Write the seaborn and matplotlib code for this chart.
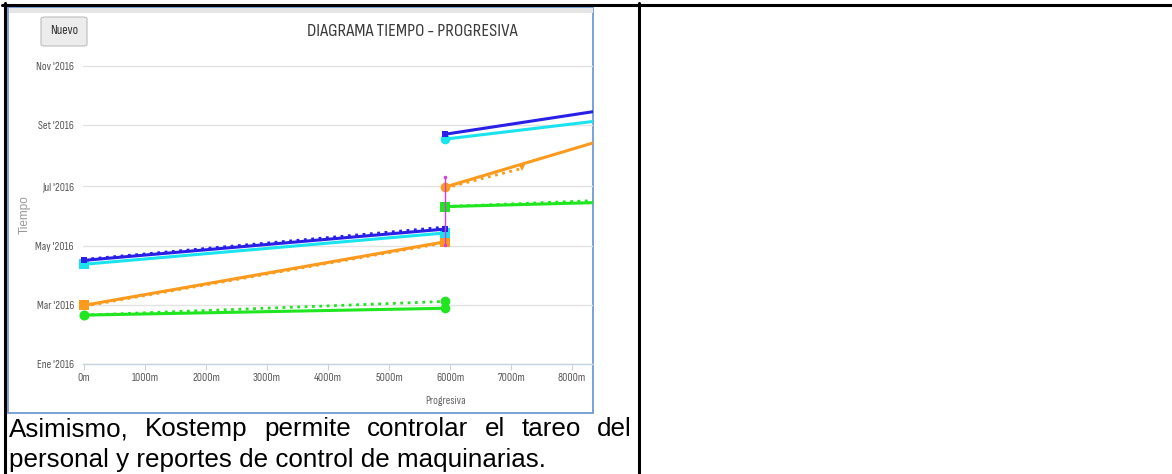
import pandas as pd
import seaborn as sns
import matplotlib.pyplot as plt
from matplotlib.lines import Line2D
from matplotlib.patches import Rectangle, FancyBboxPatch

# Progresiva (m) de cada tramo
x_tramo1 = [0, 5920]
x_tramo2 = [5920, 8340]
x_naranja_prog2 = [5920, 7180]
x_hito = [5920, 5920]

# Tiempo, tramo 1 (real = continua, prog = punteada)
azul_t1 = ['2016-04-16', '2016-05-18']
azul_prog_t1 = ['2016-04-17', '2016-05-20']
cian_t1 = ['2016-04-12', '2016-05-14']
naranja_t1 = ['2016-03-01', '2016-05-05']
naranja_prog_t1 = ['2016-02-29', '2016-05-04']
verde_t1 = ['2016-02-20', '2016-02-27']
verde_prog_t1 = ['2016-02-20', '2016-03-05']

# Tiempo, tramo 2
azul_t2 = ['2016-08-23', '2016-09-15']
cian_t2 = ['2016-08-18', '2016-09-05']
naranja_t2 = ['2016-06-30', '2016-08-14']
naranja_prog_t2 = ['2016-06-29', '2016-07-19']
verde_t2 = ['2016-06-10', '2016-06-14']
verde_prog_t2 = ['2016-06-10', '2016-06-16']

# hito vertical en el cambio de tramo
hito = ['2016-05-02', '2016-07-10']

# ejes
x_ticks = [0, 1000, 2000, 3000, 4000, 5000, 6000, 7000, 8000]
x_ticklabels = ['0m', '1000m', '2000m', '3000m', '4000m', '5000m', '6000m', '7000m', '8000m']
y_ticks = ['2016-01-01', '2016-03-01', '2016-05-01', '2016-07-01', '2016-09-01', '2016-11-01']
y_ticklabels = ["Ene '2016", "Mar '2016", "May '2016", "Jul '2016", "Set '2016", "Nov '2016"]

texto = ["Asimismo, Kostemp permite controlar el tareo del",
         "personal y reportes de control de maquinarias."]

AZUL = '#2a1fe6'
CIAN = '#19e3ee'
NARANJA = '#fb9a1c'
VERDE = '#1fe61f'
MAGENTA = '#d63cd6'
# la captura del grafico esta comprimida en horizontal -> fuente condensada
NARROW = ['Sofia Sans Condensed', 'Sofia Sans Semi Condensed', 'Liberation Sans', 'DejaVu Sans']

sns.set_style('white')
plt.rcParams['font.family'] = ['Liberation Sans', 'DejaVu Sans']

W, H = 1172, 474
fig = plt.figure(figsize=(W / 100, H / 100), dpi=100)


def rect(x0, y0, x1, y1):
    return [x0 / W, 1 - y1 / H, (x1 - x0) / W, (y1 - y0) / H]


def hline(x0, x1, y, **kw):
    fig.add_artist(Line2D([x0 / W, x1 / W], [1 - y / H, 1 - y / H], **kw))


def vline(x, y0, y1, **kw):
    fig.add_artist(Line2D([x / W, x / W], [1 - y0 / H, 1 - y1 / H], **kw))


# marco de la tabla
hline(2, W, 4.5, color='black', lw=2.2)
vline(4.5, 3, H, color='black', lw=2.2)
vline(639, 3, H, color='black', lw=2.2)

# marco de la imagen del grafico
fig.add_artist(Rectangle((7.5 / W, 1 - 413 / H), 586 / W, 406 / H,
                         transform=fig.transFigure, facecolor='white',
                         edgecolor='#6f9bd6', lw=1.3))
fig.add_artist(Rectangle((8.5 / W, 1 - 12.5 / H), 584 / W, 4.5 / H,
                         transform=fig.transFigure, facecolor='#e6e6e6', lw=0))

# boton "Nuevo"
fig.add_artist(FancyBboxPatch((41 / W, 1 - 46 / H), 46 / W, 29 / H,
                              boxstyle='round,pad=0,rounding_size=0.004',
                              transform=fig.transFigure, facecolor='#ececec',
                              edgecolor='#c4c4c4', lw=0.9))
fig.text(64 / W, 1 - 31 / H, 'Nuevo', family=NARROW, fontsize=9.5,
         color='#333333', ha='center', va='center')

fig.text(412 / W, 1 - 32 / H, 'DIAGRAMA TIEMPO - PROGRESIVA', family=NARROW,
         fontsize=13.5, color='#3a3a3a', ha='center', va='center')

ax = fig.add_axes(rect(83, 56, 593, 364))
ax.set_facecolor('none')
ax.set_zorder(5)

series = [
    (x_tramo1, verde_prog_t1, VERDE, ':', 'o', 7, None),
    (x_tramo1, verde_t1, VERDE, '-', 'o', 7, None),
    (x_tramo1, naranja_prog_t1, NARANJA, ':', None, 0, None),
    (x_tramo1, naranja_t1, NARANJA, '-', 's', 7, None),
    (x_tramo1, cian_t1, CIAN, '-', 's', 7, None),
    (x_tramo1, azul_prog_t1, AZUL, ':', None, 0, None),
    (x_tramo1, azul_t1, AZUL, '-', 's', 5, None),
    (x_tramo2, verde_prog_t2, VERDE, ':', None, 0, None),
    (x_tramo2, verde_t2, VERDE, '-', 's', 7, [0]),
    (x_naranja_prog2, naranja_prog_t2, NARANJA, ':', 'v', 5, None),
    (x_tramo2, naranja_t2, NARANJA, '-', 'o', 7, [0]),
    (x_tramo2, cian_t2, CIAN, '-', 'o', 7, [0]),
    (x_tramo2, azul_t2, AZUL, '-', 's', 5, [0]),
]

for xs, fechas, color, ls, mk, ms, every in series:
    kw = dict(linestyle=ls, lw=2.2 if ls == '-' else 2.0)
    if mk:
        kw.update(marker=mk, markersize=ms, markeredgewidth=0)
        if every is not None:
            kw['markevery'] = every
    sns.lineplot(x=xs, y=pd.to_datetime(fechas), color=color, ax=ax,
                 estimator=None, sort=False, **kw)
    # los tramos que empiezan en 0m no se recortan en el borde izquierdo
    if xs[0] == 0:
        ax.lines[-1].set_clip_on(False)

sns.lineplot(x=x_hito, y=pd.to_datetime(hito), color=MAGENTA, ax=ax,
             estimator=None, sort=False, lw=1, marker='o', markersize=2.5,
             markeredgewidth=0)
ax.lines[-1].set_clip_on(False)

ax.set_xlim(-16, 8344)
ax.set_ylim(pd.Timestamp('2016-01-01'), pd.Timestamp('2016-01-01') + pd.Timedelta(days=315))

ax.set_xticks(x_ticks)
ax.set_xticklabels(x_ticklabels, family=NARROW, fontsize=8.3, color='#555555')
ax.set_yticks(pd.to_datetime(y_ticks))
ax.set_yticklabels(y_ticklabels, family=NARROW, fontsize=8.3, color='#555555')
ax.tick_params(axis='x', length=4, width=0.8, color='#c6d4e2', pad=2.5, bottom=True)
ax.tick_params(axis='y', length=0, pad=6.5)

ax.yaxis.grid(True, color='#e3e3e3', lw=1)
ax.xaxis.grid(False)
for s in ['left', 'right', 'top']:
    ax.spines[s].set_visible(False)
ax.spines['bottom'].set_color('#c6d4e2')
ax.spines['bottom'].set_linewidth(1)

ax.set_xlabel('Progresiva', family=NARROW, fontsize=8.3, color='#666666')
ax.xaxis.set_label_coords((446 - 83) / 510, -(396 - 364) / 308)
ax.set_ylabel('Tiempo', fontsize=8.5, color='#999999')
ax.yaxis.set_label_coords((31 - 83) / 510, (364 - 215) / 308)

# parrafo debajo de la imagen (primera linea justificada)
palabras = texto[0].split()
objs = [fig.text(0, 1 - 429 / H, p, fontsize=18.7, color='black', va='center')
        for p in palabras]
fig.text(9 / W, 1 - 460 / H, texto[1], fontsize=18.7, color='black', va='center')
fig.canvas.draw()
r = fig.canvas.get_renderer()
anchos = [t.get_window_extent(r).width for t in objs]
hueco = (632 - 9 - sum(anchos)) / (len(objs) - 1)
x = 9
for t, a in zip(objs, anchos):
    t.set_x(x / W)
    x += a + hueco

fig.savefig('out.png', dpi=100)
